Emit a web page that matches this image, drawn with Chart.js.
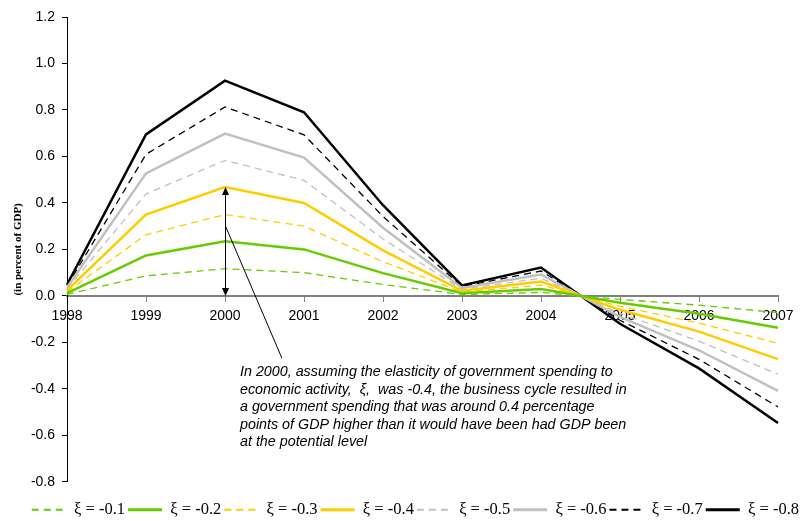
<!DOCTYPE html>
<html>
<head>
<meta charset="utf-8">
<script src="https://cdn.jsdelivr.net/npm/chart.js@4.4.0/dist/chart.umd.min.js"></script>
<style>
  html, body { margin: 0; padding: 0; background: #fff; }
  #wrap { width: 802px; height: 521px; }
</style>
</head>
<body>
<div id="wrap"><canvas id="chart" width="802" height="521"></canvas></div>
<script>
// years on the x axis
var years = ['1998', '1999', '2000', '2001', '2002', '2003', '2004', '2005', '2006', '2007'];

// cyclical government spending, in percent of GDP, one list per elasticity
var xi01 = [0.006, 0.086, 0.117, 0.100, 0.049, 0.006, 0.015, -0.015, -0.040, -0.072];
var xi02 = [0.012, 0.174, 0.235, 0.200, 0.098, 0.011, 0.030, -0.030, -0.077, -0.137];
var xi03 = [0.018, 0.263, 0.350, 0.300, 0.147, 0.017, 0.046, -0.045, -0.117, -0.204];
var xi04 = [0.024, 0.350, 0.468, 0.400, 0.196, 0.022, 0.062, -0.060, -0.154, -0.272];
var xi05 = [0.030, 0.439, 0.583, 0.497, 0.245, 0.028, 0.076, -0.075, -0.195, -0.337];
var xi06 = [0.036, 0.527, 0.698, 0.595, 0.293, 0.034, 0.092, -0.090, -0.234, -0.409];
var xi07 = [0.042, 0.609, 0.813, 0.693, 0.342, 0.040, 0.107, -0.105, -0.273, -0.478];
var xi08 = [0.048, 0.695, 0.926, 0.790, 0.390, 0.045, 0.122, -0.120, -0.312, -0.547];

var seriesLabels = ['ξ = -0.1', 'ξ = -0.2', 'ξ = -0.3', 'ξ = -0.4', 'ξ = -0.5', 'ξ = -0.6', 'ξ = -0.7', 'ξ = -0.8'];

var noteLines = [
    'In 2000, assuming the elasticity of government spending to',
    'economic activity,  ξ,  was -0.4, the business cycle resulted in',
    'a government spending that was around 0.4 percentage',
    'points of GDP higher than it would have been had GDP been',
    'at the potential level'
];

var green = '#66cc00', yellow = '#ffcc00', grey = '#c0c0c0', black = '#000000';
var dash = [7, 5];

function line(label, data, color, dashed) {
    return {
        label: label,
        data: data,
        borderColor: color,
        backgroundColor: color,
        borderWidth: dashed ? 1.3 : 2.5,
        borderDash: dashed ? dash : [],
        pointRadius: 0,
        tension: 0,
        fill: false
    };
}

// arrow + pointer + note text for the 2000 callout
var notePlugin = {
    id: 'note',
    afterDraw: function (chart) {
        var c = chart.ctx, x = chart.scales.x, y = chart.scales.y;
        var ax = Math.round(x.getPixelForValue(2)) + 0.5;
        var top = y.getPixelForValue(xi04[2]), bot = y.getPixelForValue(0);
        c.save();
        c.strokeStyle = '#000';
        c.fillStyle = '#000';
        c.lineWidth = 1;
        c.beginPath();
        c.moveTo(ax, top + 6);
        c.lineTo(ax, bot - 6);
        c.stroke();
        c.beginPath();
        c.moveTo(ax, top); c.lineTo(ax - 3.5, top + 8); c.lineTo(ax + 3.5, top + 8);
        c.closePath(); c.fill();
        c.beginPath();
        c.moveTo(ax, bot); c.lineTo(ax - 3.5, bot - 8); c.lineTo(ax + 3.5, bot - 8);
        c.closePath(); c.fill();
        // pointer to the text
        c.beginPath();
        c.moveTo(ax, y.getPixelForValue(0.3));
        c.lineTo(x.getPixelForValue(2.72), y.getPixelForValue(-0.268));
        c.stroke();
        c.font = 'italic 14.3px "Liberation Sans", Arial, sans-serif';
        c.textBaseline = 'alphabetic';
        var tx = x.getPixelForValue(2) + 15, ty = y.getPixelForValue(-0.345);
        noteLines.forEach(function (t, i) { c.fillText(t, tx, ty + i * 17.6); });
        c.restore();
    }
};

var ctx = document.getElementById('chart').getContext('2d');
var myChart = new Chart(ctx, {
    type: 'line',
    data: {
        labels: years,
        datasets: [
            line(seriesLabels[0], xi01, green, true),
            line(seriesLabels[1], xi02, green, false),
            line(seriesLabels[2], xi03, yellow, true),
            line(seriesLabels[3], xi04, yellow, false),
            line(seriesLabels[4], xi05, grey, true),
            line(seriesLabels[5], xi06, grey, false),
            line(seriesLabels[6], xi07, black, true),
            line(seriesLabels[7], xi08, black, false)
        ]
    },
    plugins: [notePlugin],
    options: {
        responsive: false,
        animation: false,
        devicePixelRatio: 1,
        layout: { padding: { left: 0, right: 0, top: 17, bottom: -7 } },
        plugins: {
            tooltip: { enabled: false },
            legend: {
                position: 'bottom',
                align: 'end',
                // empty title only adds room between the plot and the keys
                title: { display: true, text: '', padding: { top: 8, bottom: 7.5 }, font: { size: 1 } },
                labels: {
                    usePointStyle: true,
                    pointStyle: 'line',
                    pointStyleWidth: 34,
                    padding: 3,
                    color: '#000',
                    font: { family: '"Liberation Serif", "Times New Roman", serif', size: 16.5 },
                    generateLabels: function (chart) {
                        var items = Chart.defaults.plugins.legend.labels.generateLabels(chart);
                        items.forEach(function (it) {
                            var ds = chart.data.datasets[it.datasetIndex];
                            var dashed = ds.borderDash && ds.borderDash.length > 0;
                            it.lineDash = dashed ? dash : [];
                            it.lineWidth = dashed ? 2 : 3;
                            it.strokeStyle = ds.borderColor;
                        });
                        return items;
                    }
                }
            }
        },
        scales: {
            x: {
                type: 'category',
                position: { y: 0 },
                offset: false,
                grid: { drawOnChartArea: false, drawTicks: true, tickLength: 5, color: '#808080' },
                border: { color: '#808080', width: 2 },
                ticks: {
                    autoSkip: false,
                    maxRotation: 0,
                    padding: 7,
                    color: '#000',
                    font: { family: '"Liberation Sans", Arial, sans-serif', size: 14 }
                },
                afterFit: function (s) { s.height = 17; s.paddingRight = 24; s.paddingLeft = 0; }
            },
            y: {
                min: -0.8,
                max: 1.2,
                grid: { drawOnChartArea: false, drawTicks: true, tickLength: 5, color: '#000' },
                border: { color: '#000', width: 1 },
                ticks: {
                    stepSize: 0.2,
                    padding: 7,
                    color: '#000',
                    font: { family: '"Liberation Sans", Arial, sans-serif', size: 14 },
                    callback: function (v) { return Number(v).toFixed(1); }
                },
                title: {
                    display: true,
                    text: '(in percent of GDP)',
                    color: '#000',
                    padding: { top: 12, bottom: 0 },
                    font: { family: '"Liberation Serif", "Times New Roman", serif', size: 11, weight: 'bold' }
                },
                afterFit: function (s) { s.width = 67; }
            }
        }
    }
});
</script>
</body>
</html>
